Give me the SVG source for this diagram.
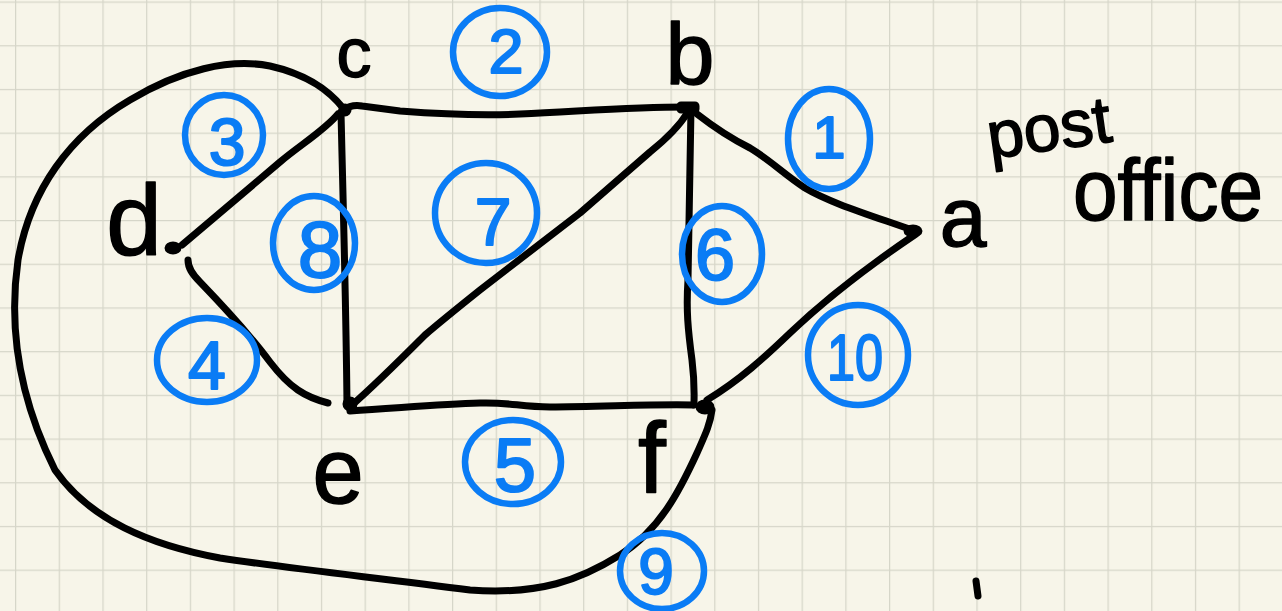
<svg xmlns="http://www.w3.org/2000/svg" width="1282" height="611" viewBox="0 0 1282 611">
<defs>
<pattern id="grid" x="15" y="1.5" width="43.7" height="43.7" patternUnits="userSpaceOnUse">
<path d="M0 0.5H43.7M0.5 0V43.7" stroke="#d6d6c9" stroke-width="1.5" fill="none"/>
</pattern>
<style>
.edge{fill:none;stroke:#000;stroke-width:7;stroke-linecap:round;stroke-linejoin:round}
.dot{fill:#000;stroke:#000;stroke-width:3;stroke-linejoin:round}
.lab{font-family:"Liberation Sans","DejaVu Sans",sans-serif;fill:#000;stroke:#000;stroke-width:1.5;stroke-linejoin:round;text-anchor:middle}
.ring{fill:none;stroke:#0a7cf5;stroke-width:6.5;stroke-linecap:round}
.num{font-family:"Liberation Sans","DejaVu Sans",sans-serif;fill:#0a7cf5;stroke:#0a7cf5;stroke-width:2;stroke-linejoin:round;text-anchor:middle}
</style>
</defs>
<rect width="1282" height="611" fill="#f7f5e9"/>
<rect width="1282" height="611" fill="url(#grid)"/>

<g id="connectors">
<path id="e-cb" class="edge" d="M343 110 Q352 104 362 106 L400 111 C440 114 480 116 520 114 C600 110 650 106 695 107"/>
<path id="e-ba" class="edge" d="M697 114 C715 128 730 138 750 148 C770 160 785 175 805 188 C830 203 870 215 915 231"/>
<path id="e-af" class="edge" d="M916 234 C870 265 830 295 790 333 C765 357 740 380 707 400"/>
<path id="e-be" class="edge" d="M688 112 C680 125 665 140 650 152 L580 213 L480 290 C455 310 440 322 425 335 C400 360 375 385 352 405"/>
<path id="e-bf" class="edge" d="M691 108 L688 280 C686 310 688 330 692 360 C695 385 694 395 694 405"/>
<path id="e-ce" class="edge" d="M341 112 C343 200 346 300 347 405"/>
<path id="e-cd" class="edge" d="M338 114 C325 130 300 145 280 162 L182 245"/>
<path id="e-de" class="edge" d="M188 260 C188 268 192 274 200 282 C225 308 250 335 270 362 C290 388 305 397 328 403"/>
<path id="e-ef" class="edge" d="M350 411 C400 408 440 404 480 403 C510 402 520 407 550 407 C600 407 650 404 693 405"/>
<path id="e-cf" class="edge" d="M343 108 C330 92 310 75 270 66 C230 58 180 70 130 100 C70 135 30 190 18 260 C8 330 20 400 55 470 C90 520 150 545 220 558 C300 570 380 578 470 590 C540 595 580 580 620 555 C660 530 680 490 697 453 C705 435 710 425 712 410"/>
</g>

<g id="node-c"><circle class="dot" cx="345" cy="110" r="5"/><text class="lab" x="354" y="77" font-size="70">c</text></g>
<g id="node-b"><rect class="dot" x="678" y="103" width="20" height="9" rx="3"/><text class="lab" x="690" y="84" font-size="88">b</text></g>
<g id="node-a"><ellipse class="dot" cx="913" cy="231" rx="8" ry="5"/><text class="lab" x="963" y="246" font-size="84">a</text></g>
<g id="node-d"><ellipse class="dot" cx="173" cy="248" rx="7" ry="5"/><text class="lab" x="134" y="255" font-size="100">d</text></g>
<g id="node-e"><circle class="dot" cx="350" cy="404" r="6"/><text class="lab" x="338" y="503" font-size="92">e</text></g>
<g id="node-f"><ellipse class="dot" cx="705" cy="407" rx="8" ry="6"/><text class="lab" x="652" y="493" font-size="100">f</text></g>
<g id="note-post-office">
<text class="lab" x="1052" y="150" font-size="66" transform="rotate(-8 1052 150)">post</text>
<text class="lab" x="1168" y="220" font-size="88" textLength="190" lengthAdjust="spacingAndGlyphs">office</text>
</g>

<g id="w1"><ellipse class="ring" cx="829" cy="139" rx="41" ry="50"/><text class="num" x="829" y="158" font-size="60">1</text></g>
<g id="w2"><ellipse class="ring" cx="500" cy="52" rx="47" ry="44"/><text class="num" x="506" y="73" font-size="63">2</text></g>
<g id="w3"><ellipse class="ring" cx="224" cy="135" rx="39" ry="40"/><text class="num" x="227" y="165" font-size="66">3</text></g>
<g id="w4"><ellipse class="ring" cx="207" cy="360" rx="50" ry="42"/><text class="num" x="207" y="389" font-size="68">4</text></g>
<g id="w5"><ellipse class="ring" cx="513" cy="462" rx="48" ry="42"/><text class="num" x="515" y="491" font-size="76">5</text></g>
<g id="w6"><ellipse class="ring" cx="722" cy="254" rx="40" ry="48"/><text class="num" x="715" y="280" font-size="72">6</text></g>
<g id="w7"><ellipse class="ring" cx="486" cy="213" rx="51" ry="50"/><text class="num" x="493" y="245" font-size="66">7</text></g>
<g id="w8"><ellipse class="ring" cx="314" cy="243" rx="41" ry="47"/><text class="num" x="320" y="277" font-size="80">8</text></g>
<g id="w9"><ellipse class="ring" cx="662" cy="571" rx="42" ry="38"/><text class="num" x="656" y="594" font-size="64">9</text></g>
<g id="w10"><ellipse class="ring" cx="858" cy="355" rx="50" ry="50"/><text class="num" x="855" y="380" font-size="64" textLength="56" lengthAdjust="spacingAndGlyphs">10</text></g>

<g id="marks">
<path class="edge" d="M976 581 L978 596"/>
</g>
</svg>
